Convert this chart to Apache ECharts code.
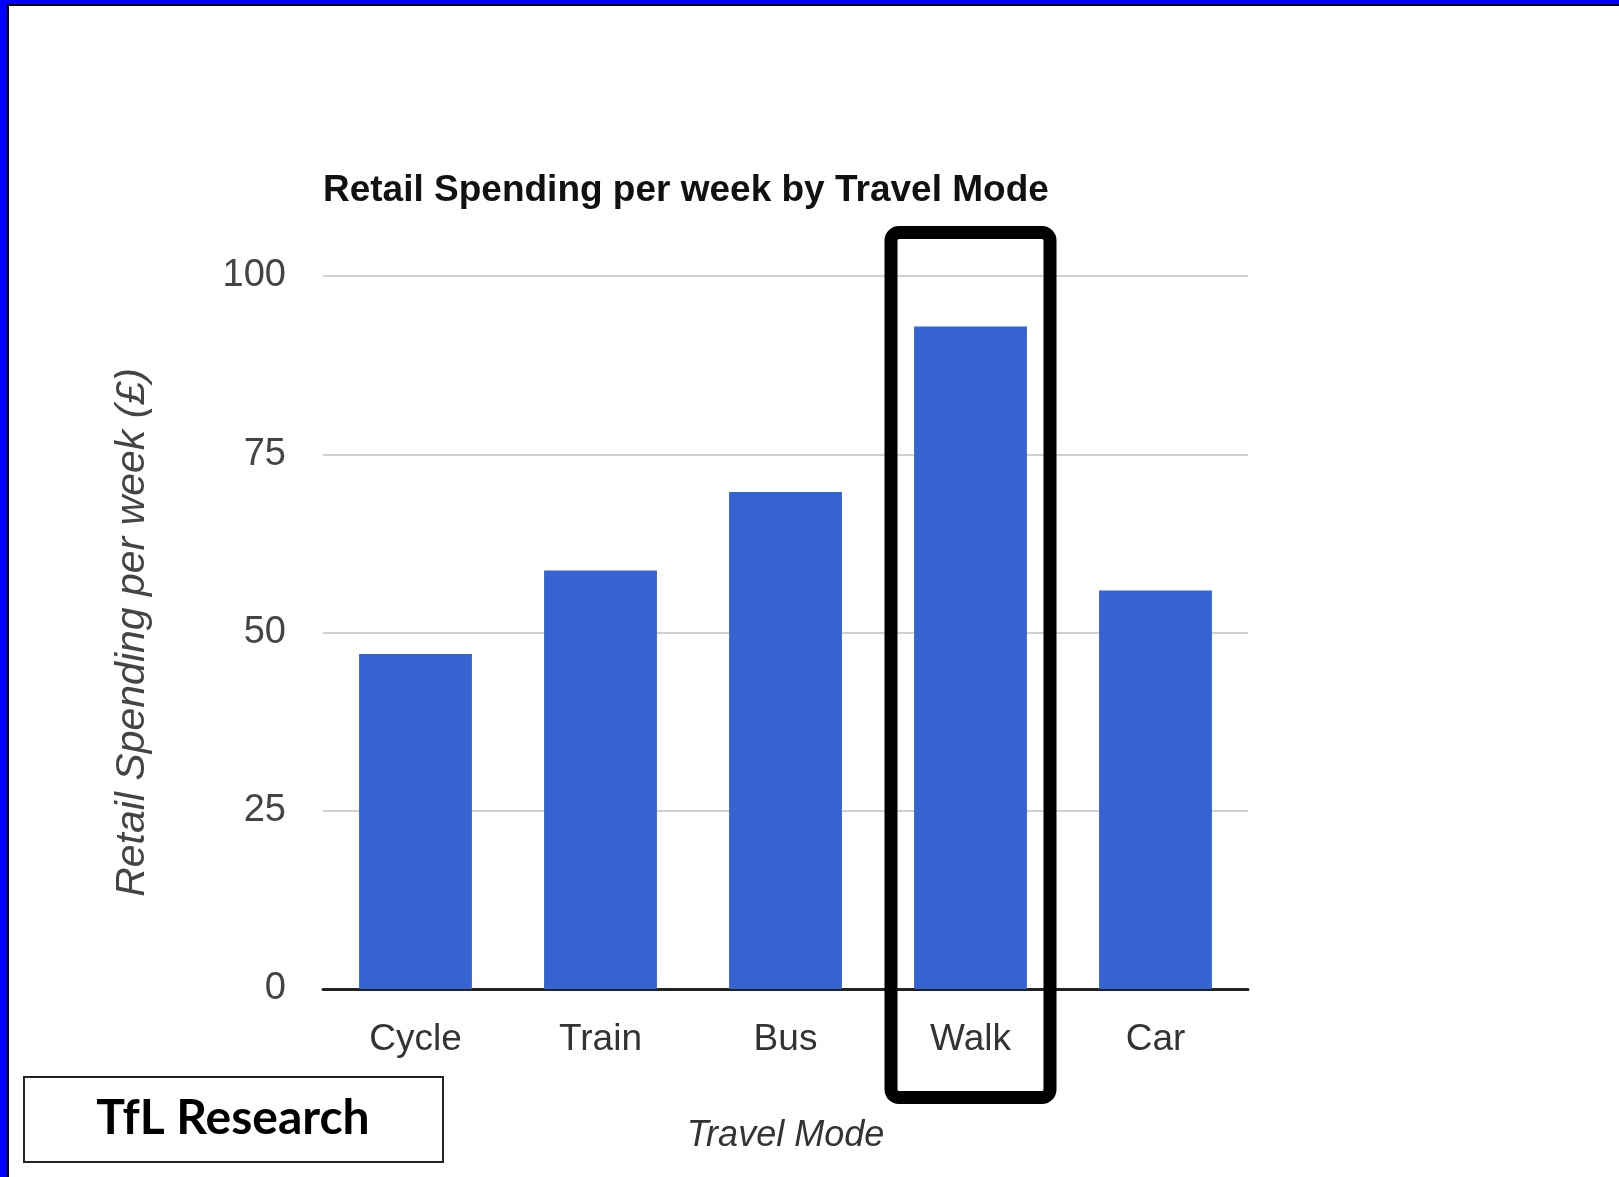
<!DOCTYPE html>
<html>
<head>
<meta charset="utf-8">
<script src="https://cdn.jsdelivr.net/npm/echarts@6/dist/echarts.min.js"></script>
<style>
  html, body { margin: 0; padding: 0; background: #fff; }
  #chart { width: 1619px; height: 1177px; }
</style>
</head>
<body>
<div id="chart"></div>
<script>
// ---- data ----
const categories = ['Cycle', 'Train', 'Bus', 'Walk', 'Car'];
const spending = [47, 58.7, 69.7, 92.9, 55.9];
const yMin = 0, yMax = 100, yInterval = 25;
const highlightCategory = 'Walk';
const chartTitle = 'Retail Spending per week by Travel Mode';
const xAxisTitle = 'Travel Mode';
const yAxisTitle = 'Retail Spending per week (£)';
const sourceNote = 'TfL Research';

const chart = echarts.init(document.getElementById('chart'), null, { renderer: 'canvas' });
const FONT = '"Liberation Sans", Arial, sans-serif';

const frameGraphics = [
  { type: 'rect', shape: { x: 0, y: 0, width: 1619, height: 4 }, style: { fill: '#0000ff' }, z: 100 },
  { type: 'rect', shape: { x: 0, y: 4, width: 1619, height: 2 }, style: { fill: '#000000' }, z: 100 },
  { type: 'rect', shape: { x: 0, y: 0, width: 7, height: 1177 }, style: { fill: '#0000ff' }, z: 101 },
  { type: 'rect', shape: { x: 7, y: 4, width: 2, height: 1173 }, style: { fill: '#000000' }, z: 101 },
  { type: 'rect', shape: { x: 24, y: 1077, width: 419, height: 85 }, style: { fill: '#ffffff', stroke: '#222', lineWidth: 2 }, z: 100 },
  { type: 'text', x: 233, y: 1119, style: { text: sourceNote, font: 'bold 48px Lato, "Open Sans", sans-serif', fill: '#000', align: 'center', verticalAlign: 'middle' }, z: 101 }
];

chart.setOption({
  backgroundColor: '#ffffff',
  animation: false,
  title: {
    text: chartTitle,
    left: 318,
    top: 167,
    textStyle: { fontFamily: FONT, fontSize: 37, fontWeight: 'bold', color: '#111' }
  },
  grid: { left: 323, right: 371, top: 276, bottom: 188, containLabel: false },
  xAxis: {
    type: 'category',
    data: categories,
    name: xAxisTitle,
    nameLocation: 'middle',
    nameGap: 129,
    nameTextStyle: { fontFamily: FONT, fontSize: 36, fontStyle: 'italic', color: '#333' },
    axisLine: { show: true, lineStyle: { color: '#222', width: 3 } },
    axisTick: { show: false },
    axisLabel: { fontFamily: FONT, fontSize: 37, color: '#333', margin: 32 }
  },
  yAxis: {
    type: 'value',
    min: yMin,
    max: yMax,
    interval: yInterval,
    name: yAxisTitle,
    nameLocation: 'middle',
    nameGap: 170,
    nameTextStyle: { fontFamily: FONT, fontSize: 41, fontStyle: 'italic', color: '#444' },
    axisLine: { show: false },
    axisTick: { show: false },
    axisLabel: { fontFamily: FONT, fontSize: 38, color: '#444', margin: 37 },
    splitLine: { show: true, lineStyle: { color: '#d0d0d0', width: 2 } }
  },
  series: [{
    type: 'bar',
    data: spending,
    barCategoryGap: '39%',
    itemStyle: { color: '#3563d1' }
  }],
  graphic: frameGraphics
});

// Highlight box around the chosen category, positioned through the axis scale
const cx = chart.convertToPixel({ xAxisIndex: 0 }, highlightCategory);
chart.setOption({
  graphic: frameGraphics.concat([{
    type: 'rect',
    shape: { x: cx - 79.5, y: 232.5, width: 159, height: 865, r: 8 },
    style: { fill: 'none', stroke: '#000', lineWidth: 13 },
    z: 50
  }])
});
</script>
</body>
</html>
